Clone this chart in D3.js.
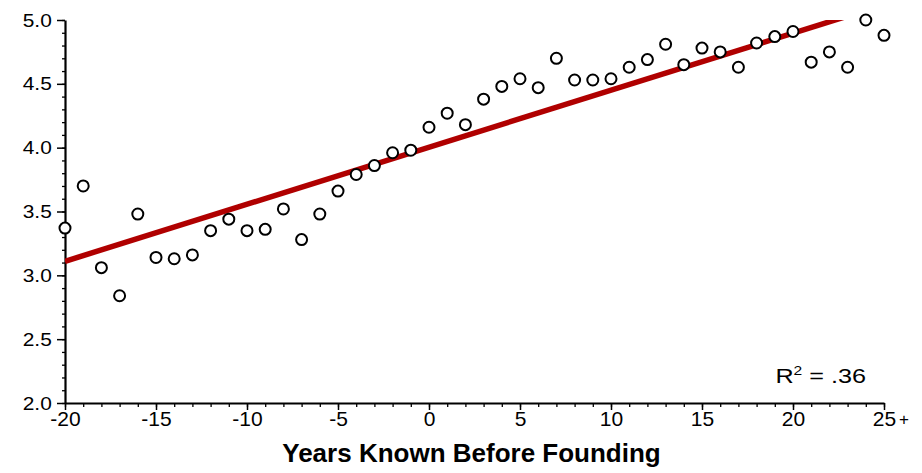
<!DOCTYPE html>
<html>
<head>
<meta charset="utf-8">
<script src="https://cdn.jsdelivr.net/npm/d3@7"></script>
<style>
    body { margin: 0; background: #fff; }
    .axis text { font-family: "Liberation Sans", Arial, sans-serif; fill: #000; }
    .axis path, .axis line { stroke: #000; }
</style>
</head>
<body>
<svg class="chart"></svg>
<script>
'use strict';

var CHART_WIDTH = 922;
var CHART_HEIGHT = 473;
var CHART_MARGIN = { top: 20, right: 38, bottom: 70, left: 65 };
var POINT_RADIUS = 5.5;
var FIT_COLOR = "#b00000";

// data
var YEARS = [-20, -19, -18, -17, -16, -15, -14, -13, -12, -11, -10, -9, -8, -7, -6, -5, -4, -3, -2, -1,
    0, 1, 2, 3, 4, 5, 6, 7, 8, 9, 10, 11, 12, 13, 14, 15, 16, 17, 18, 19, 20, 21, 22, 23, 24, 25];
var MEAN_SCORES = [3.37, 3.70, 3.06, 2.84, 3.48, 3.14, 3.13, 3.16, 3.35, 3.44, 3.35, 3.36, 3.52, 3.28, 3.48, 3.66, 3.79, 3.86, 3.96, 3.98,
    4.16, 4.27, 4.18, 4.38, 4.48, 4.54, 4.47, 4.70, 4.53, 4.53, 4.54, 4.63, 4.69, 4.81, 4.65, 4.78, 4.75, 4.63, 4.82, 4.87, 4.91, 4.67, 4.75, 4.63, 5.00, 4.88];
var FIT_X = [-20, 25];
var FIT_Y = [3.11, 5.12];
var X_TICKS = [-20, -15, -10, -5, 0, 5, 10, 15, 20, 25];
var Y_TICKS = [2.0, 2.5, 3.0, 3.5, 4.0, 4.5, 5.0];
var X_DOMAIN = [-20, 25];
var Y_DOMAIN = [2, 5];
var X_TITLE = "Years Known Before Founding";
var R_SQUARED = ".36";

var width = CHART_WIDTH - CHART_MARGIN.left - CHART_MARGIN.right;
var height = CHART_HEIGHT - CHART_MARGIN.top - CHART_MARGIN.bottom;

var xScale = d3.scaleLinear().domain(X_DOMAIN).range([0, width]);
var yScale = d3.scaleLinear().domain(Y_DOMAIN).range([height, 0]);

var chart = d3.select(".chart")
    .attr("width", CHART_WIDTH)
    .attr("height", CHART_HEIGHT);

var inner = chart.append("g")
    .attr("transform", "translate(" + CHART_MARGIN.left + "," + CHART_MARGIN.top + ")");

// minor ticks first, then the labelled axes on top
inner.append("g")
    .attr("class", "axis")
    .attr("transform", "translate(0," + height + ")")
    .call(d3.axisBottom(xScale).tickValues(d3.range(-20, 26, 1)).tickSize(4).tickFormat(""))
    .call(function (g) { g.select(".domain").remove(); })
    .selectAll("line").attr("stroke-width", 1.3);

inner.append("g")
    .attr("class", "axis")
    .call(d3.axisLeft(yScale).tickValues(d3.range(20, 51, 1).map(function (v) { return v / 10; })).tickSize(3).tickFormat(""))
    .call(function (g) { g.select(".domain").remove(); })
    .selectAll("line").attr("stroke-width", 1.3);

// plain hyphen for negatives, as in the original
var xAxis = inner.append("g")
    .attr("class", "axis")
    .attr("transform", "translate(0," + height + ")")
    .call(d3.axisBottom(xScale).tickValues(X_TICKS)
        .tickFormat(function (d) { return String(d); })
        .tickSizeInner(7).tickSizeOuter(0).tickPadding(1));
xAxis.select(".domain").attr("stroke-width", 2.2);
xAxis.selectAll(".tick line").attr("stroke-width", 1.5);
xAxis.selectAll("text").style("font-size", "21px");

var yAxis = inner.append("g")
    .attr("class", "axis")
    .call(d3.axisLeft(yScale).tickValues(Y_TICKS).tickFormat(d3.format(".1f")).tickSizeInner(8).tickSizeOuter(0).tickPadding(4));
yAxis.select(".domain").attr("stroke-width", 2.2);
yAxis.selectAll(".tick line").attr("stroke-width", 1.5);
yAxis.selectAll("text")
    .style("font-size", "19px")
    .attr("transform", "scale(1.1,1)");

// the "+" after the last x tick (25 or more years)
inner.append("text")
    .attr("x", xScale(25) + 15)
    .attr("y", height + 22)
    .style("font-family", "Liberation Sans, Arial, sans-serif")
    .style("font-size", "17px")
    .text("+");

// fit line, clipped at the top of the plot
inner.append("clipPath")
    .attr("id", "plot-clip")
    .append("rect")
    .attr("x", 0)
    .attr("y", 0)
    .attr("width", width)
    .attr("height", height);

var fitData = FIT_X.map(function (x, i) { return { x: x, y: FIT_Y[i] }; });
inner.append("path")
    .datum(fitData)
    .attr("clip-path", "url(#plot-clip)")
    .attr("fill", "none")
    .attr("stroke", FIT_COLOR)
    .attr("stroke-width", 5.5)
    .attr("d", d3.line()
        .x(function (d) { return xScale(d.x); })
        .y(function (d) { return yScale(d.y); }));

// data points
var points = YEARS.map(function (year, i) { return { year: year, score: MEAN_SCORES[i] }; });
inner.selectAll("circle.point")
    .data(points)
    .enter()
    .append("circle")
    .attr("class", "point")
    .attr("cx", function (d) { return xScale(d.year); })
    .attr("cy", function (d) { return yScale(d.score); })
    .attr("r", POINT_RADIUS)
    .attr("fill", "#fff")
    .attr("stroke", "#000")
    .attr("stroke-width", 2);

// R squared label
var rLabel = inner.append("text")
    .attr("text-anchor", "end")
    .attr("transform", "translate(" + (xScale(25) - 18) + "," + (yScale(2) - 20) + ") scale(1.2,1)")
    .style("font-family", "Liberation Sans, Arial, sans-serif")
    .style("font-size", "21px")
    .attr("fill", "#000");
rLabel.append("tspan").text("R");
rLabel.append("tspan").attr("dy", -8).style("font-size", "13px").text("2");
rLabel.append("tspan").attr("dy", 8).text(" = " + R_SQUARED);

// x axis title
inner.append("text")
    .attr("x", width / 2 - 3)
    .attr("y", height + 59)
    .attr("text-anchor", "middle")
    .style("font-family", "Liberation Sans, Arial, sans-serif")
    .style("font-size", "26px")
    .style("font-weight", "bold")
    .attr("fill", "#000")
    .text(X_TITLE);
</script>
</body>
</html>
